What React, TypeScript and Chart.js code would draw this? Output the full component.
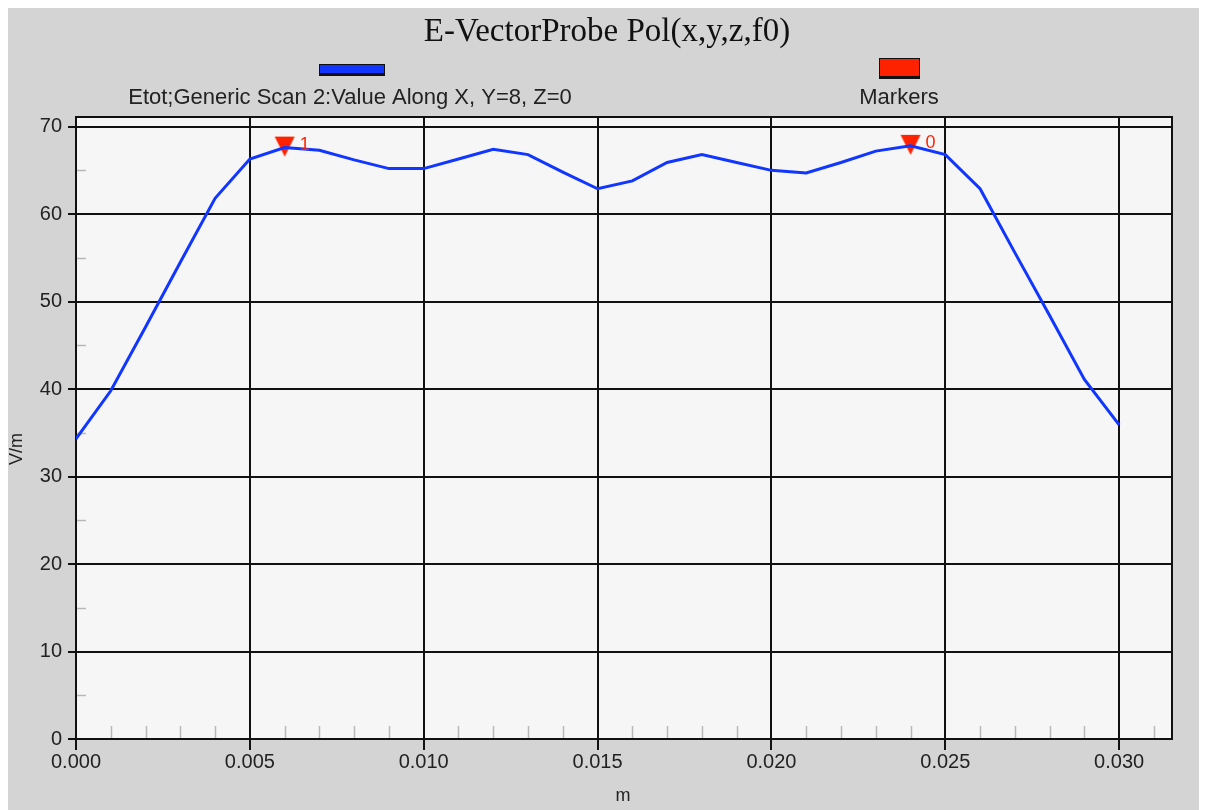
import React, { useEffect, useRef } from "react";
import { Chart, registerables } from "chart.js";
Chart.register(...registerables);

const xValues = [0, 0.001, 0.002, 0.003, 0.004, 0.005, 0.006, 0.007, 0.008, 0.009, 0.01, 0.011, 0.012, 0.013, 0.014, 0.015, 0.016, 0.017, 0.018, 0.019, 0.02, 0.021, 0.022, 0.023, 0.024, 0.025, 0.026, 0.027, 0.028, 0.029, 0.03];
const eTotValues = [34.3, 39.8, 47.1, 54.5, 61.8, 66.3, 67.6, 67.3, 66.2, 65.2, 65.2, 66.3, 67.4, 66.8, 64.8, 62.9, 63.8, 65.9, 66.8, 65.9, 65.0, 64.7, 65.9, 67.2, 67.8, 66.8, 62.9, 55.6, 48.4, 41.1, 35.9];
const markerX = [0.006, 0.024];
const markerY = [67.6, 67.8];
const markerLabels = ["1", "0"];
const minorXTicks = [0.001, 0.002, 0.003, 0.004, 0.006, 0.007, 0.008, 0.009, 0.011, 0.012, 0.013, 0.014, 0.016, 0.017, 0.018, 0.019, 0.021, 0.022, 0.023, 0.024, 0.026, 0.027, 0.028, 0.029, 0.031];
const minorYTicks = [5, 15, 25, 35, 45, 55, 65];

const TITLE = "E-VectorProbe Pol(x,y,z,f0)";
const SERIES_NAME = "Etot;Generic Scan 2:Value Along X, Y=8, Z=0";
const MARKERS_NAME = "Markers";
const X_TITLE = "m";
const Y_TITLE = "V/m";

const BG = "#d4d4d4";
const PLOT_BG = "#f6f6f6";
const LINE_COLOR = "#1036ff";
const MARKER_COLOR = "#ff2200";
const SANS = "'Liberation Sans', Arial, sans-serif";

function makeMarkerImage(): HTMLCanvasElement {
  const c = document.createElement("canvas");
  c.width = 24;
  c.height = 40;
  const g = c.getContext("2d")!;
  g.fillStyle = MARKER_COLOR;
  g.beginPath();
  // image centre (12,20) sits on the data point; triangle drawn slightly above it
  g.moveTo(2, 9);
  g.lineTo(22, 9);
  g.lineTo(12, 29);
  g.closePath();
  g.fill();
  return c;
}

const decorPlugin = {
  id: "decor",
  beforeDraw(chart: any) {
    const { ctx, chartArea: a, width, height } = chart;
    ctx.save();
    ctx.fillStyle = BG;
    ctx.fillRect(0, 0, width, height);
    ctx.fillStyle = PLOT_BG;
    ctx.fillRect(a.left, a.top, a.right - a.left, a.bottom - a.top);
    ctx.restore();
  },
  beforeDatasetsDraw(chart: any) {
    const { ctx, chartArea: a, scales } = chart;
    const xs = scales.x;
    const ys = scales.y;
    ctx.save();
    ctx.strokeStyle = "#b8b8b8";
    ctx.lineWidth = 1.5;
    for (const v of minorXTicks) {
      const px = Math.round(xs.getPixelForValue(v)) + 0.5;
      ctx.beginPath();
      ctx.moveTo(px, a.bottom);
      ctx.lineTo(px, a.bottom - 13);
      ctx.stroke();
    }
    for (const v of minorYTicks) {
      const py = Math.round(ys.getPixelForValue(v)) + 0.5;
      ctx.beginPath();
      ctx.moveTo(a.left, py);
      ctx.lineTo(a.left + 10, py);
      ctx.stroke();
    }
    ctx.strokeStyle = "#111";
    ctx.lineWidth = 2;
    ctx.strokeRect(a.left, a.top, a.right - a.left, a.bottom - a.top);
    ctx.restore();
  },
  afterDraw(chart: any) {
    const { ctx, scales } = chart;
    const xs = scales.x;
    const ys = scales.y;
    ctx.save();
    // title
    ctx.fillStyle = "#111";
    ctx.textAlign = "center";
    ctx.textBaseline = "alphabetic";
    ctx.font = "33px 'Liberation Serif', 'Times New Roman', serif";
    ctx.fillText(TITLE, 599, 33);
    // legend
    ctx.fillStyle = "#111";
    ctx.fillRect(311, 56, 66, 12);
    ctx.fillStyle = LINE_COLOR;
    ctx.fillRect(312, 57, 64, 8);
    ctx.fillStyle = "#111";
    ctx.fillRect(871, 50, 41, 21);
    ctx.fillStyle = MARKER_COLOR;
    ctx.fillRect(872, 51, 39, 17);
    ctx.fillStyle = "#222";
    ctx.textBaseline = "middle";
    ctx.font = "22px " + SANS;
    ctx.fillText(SERIES_NAME, 342, 90);
    ctx.fillText(MARKERS_NAME, 891, 90);
    // axis titles
    ctx.font = "18px " + SANS;
    ctx.fillText(X_TITLE, 615, 788);
    ctx.save();
    ctx.translate(9, 441);
    ctx.rotate(-Math.PI / 2);
    ctx.fillText(Y_TITLE, 0, 0);
    ctx.restore();
    // marker labels
    ctx.fillStyle = MARKER_COLOR;
    ctx.textAlign = "left";
    ctx.font = "18px " + SANS;
    markerX.forEach((mx, i) => {
      const px = xs.getPixelForValue(mx);
      const py = ys.getPixelForValue(markerY[i]);
      ctx.fillText(markerLabels[i], px + 15, py - 3);
    });
    ctx.restore();
  },
};

export default function App() {
  const ref = useRef<HTMLCanvasElement | null>(null);
  useEffect(() => {
    if (!ref.current) return;
    const markerImg = makeMarkerImage();
    const chart = new Chart(ref.current, {
      type: "line",
      data: {
        datasets: [
          {
            label: SERIES_NAME,
            data: xValues.map((x, i) => ({ x, y: eTotValues[i] })),
            borderColor: LINE_COLOR,
            borderWidth: 3,
            pointRadius: 0,
            tension: 0,
            fill: false,
          },
          {
            label: MARKERS_NAME,
            type: "scatter",
            data: markerX.map((x, i) => ({ x, y: markerY[i] })),
            backgroundColor: MARKER_COLOR,
            borderColor: MARKER_COLOR,
            borderWidth: 0,
            pointStyle: markerImg,
            pointRadius: 10,
          } as any,
        ],
      },
      options: {
        animation: false,
        responsive: false,
        devicePixelRatio: 1,
        layout: { padding: { top: 109, right: 35, left: 0, bottom: 0 } },
        plugins: { legend: { display: false }, title: { display: false }, tooltip: { enabled: false } },
        events: [],
        scales: {
          x: {
            type: "linear",
            min: 0,
            max: 0.03152,
            afterFit: (s: any) => { s.height = 71; },
            ticks: {
              stepSize: 0.005,
              includeBounds: false,
              callback: (v: any) => Number(v).toFixed(3),
              color: "#222",
              font: { family: SANS, size: 20 },
              padding: 0,
              maxRotation: 0,
              autoSkip: false,
            },
            grid: { color: "#111", lineWidth: 2, tickLength: 11, drawTicks: true },
            border: { display: false },
          },
          y: {
            type: "linear",
            min: 0,
            max: 71.1,
            afterFit: (s: any) => { s.width = 68; },
            ticks: {
              stepSize: 10,
              includeBounds: false,
              color: "#222",
              font: { family: SANS, size: 20 },
              padding: 6,
            },
            grid: { color: "#111", lineWidth: 2, tickLength: 8, drawTicks: true },
            border: { display: false },
          },
        },
      } as any,
      plugins: [decorPlugin],
    });
    return () => chart.destroy();
  }, []);
  return (
    <div style={{ width: 1199, height: 802, background: BG }}>
      <canvas ref={ref} width={1199} height={802} style={{ display: "block", width: 1199, height: 802 }} />
    </div>
  );
}
